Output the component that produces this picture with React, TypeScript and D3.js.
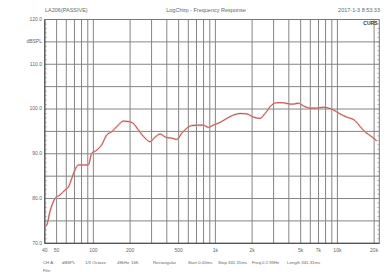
import React from "react";
import * as d3 from "d3";

const freqs = [40, 41.5, 44.1, 48.5, 53.3, 58.6, 62.3, 66.5, 70.7, 75.3, 82.8, 90.9, 97, 106.6, 117, 128.7, 141, 160, 176, 193, 210, 234, 265, 291, 320, 352, 399, 439, 482, 530, 582, 640, 725, 796, 875, 962, 1092, 1318, 1592, 1808, 2047, 2323, 2553, 2897, 3183, 3607, 4092, 4355, 4787, 5260, 5972, 6776, 7676, 8436, 9268, 10520, 11940, 13960, 15340, 16860, 19140, 21000];
const spl = [73.7, 74.1, 77.1, 80.0, 80.8, 81.9, 82.5, 84.5, 86.4, 87.5, 87.5, 87.5, 90.1, 90.8, 92.0, 94.2, 94.9, 96.4, 97.3, 97.2, 96.9, 95.3, 93.5, 92.7, 93.7, 94.4, 93.6, 93.5, 93.2, 94.6, 95.7, 96.3, 96.4, 96.4, 95.9, 96.4, 97.0, 98.3, 99.0, 98.9, 98.2, 97.9, 99.0, 100.9, 101.4, 101.4, 101.1, 101.1, 101.3, 100.7, 100.2, 100.2, 100.4, 100.2, 99.8, 98.9, 98.2, 97.4, 96.1, 94.9, 93.8, 92.9];

const xTickValues = [40, 50, 100, 200, 500, 1000, 2000, 5000, 7000, 10000, 20000];
const xTickLabels = ["40", "50", "100", "200", "500", "1k", "2k", "5k", "7k", "10k", "20k"];
const yLabelValues = [120, 115, 110, 100, 90, 80, 70];
const yLabelTexts = ["120.0", "dBSPL", "110.0", "100.0", "90.0", "80.0", "70.0"];
const infoItems = ["CH A", "dBSPL", "1/3 Octave", "48kHz", "16K", "Rectangular", "Start 0.00ms", "Stop 341.31ms", "Freq.0 2.93Hz", "Length 341.31ms"];
const infoX = [43, 62, 85, 117, 131, 153, 188, 218, 252, 287];

const W = 391, H = 272;
const L = 44.8, R = 379.3, T = 19.5, B = 243.3;

export default function App() {
  const x = d3.scaleLog().domain([40, 22050]).range([L, R]);
  const y = d3.scaleLinear().domain([70, 120]).range([B, T]);

  const gridF: number[] = [];
  for (const dec of [10, 100, 1000, 10000]) {
    for (let m = 1; m <= 9; m++) {
      const f = m * dec;
      if (f > 40 && f <= 20000) gridF.push(f);
    }
  }
  const gridDb = d3.range(75, 120, 5);
  const minorDb = d3.range(70, 121, 1);

  const line = d3.line<number>()
    .x((_, i) => x(freqs[i]))
    .y((d) => y(d))
    .curve(d3.curveMonotoneX);

  const font = "Liberation Sans, Arial, sans-serif";
  const txt = "#666";

  return (
    <svg width={W} height={H} style={{ position: "absolute", left: 0, top: 0, background: "#fff" }} fontFamily={font}>
      <rect x={0} y={0} width={W} height={H} fill="#fff" />
      {gridF.map((f) => (
        <line key={"v" + f} x1={x(f)} x2={x(f)} y1={T} y2={B} stroke="#858585" strokeWidth={1} />
      ))}
      {gridDb.map((d) => (
        <line key={"h" + d} x1={L} x2={R} y1={y(d)} y2={y(d)} stroke="#858585" strokeWidth={1} />
      ))}
      {minorDb.map((d) => (
        <g key={"m" + d}>
          <line x1={L} x2={L + 2} y1={y(d)} y2={y(d)} stroke="#888" strokeWidth={0.6} />
          <line x1={R - 2} x2={R} y1={y(d)} y2={y(d)} stroke="#888" strokeWidth={0.6} />
        </g>
      ))}
      <rect x={L} y={T} width={R - L} height={B - T} fill="none" stroke="#777" strokeWidth={1} />
      <line x1={L} x2={L} y1={T} y2={B} stroke="#555" strokeWidth={1.2} />
      <line x1={L} x2={R} y1={B} y2={B} stroke="#555" strokeWidth={1.2} />
      <path d={line(spl) || ""} fill="none" stroke="#e3b0ad" strokeWidth={2.2} opacity={0.6} />
      <path d={line(spl) || ""} fill="none" stroke="#b8504c" strokeWidth={1} />
      {yLabelValues.map((v, i) => (
        <text key={"yl" + i} x={42} y={y(v)} fontSize={5} fill={txt} textAnchor="end" dominantBaseline="middle">
          {yLabelTexts[i]}
        </text>
      ))}
      {xTickValues.map((v, i) => (
        <text key={"xl" + i} x={x(v)} y={251} fontSize={5} fill={txt} textAnchor="middle" dominantBaseline="middle">
          {xTickLabels[i]}
        </text>
      ))}
      <text x={45} y={10.5} fontSize={5.5} fill={txt} dominantBaseline="middle">LA206(PASSIVE)</text>
      <text x={206} y={10.5} fontSize={5.5} fill={txt} textAnchor="middle" dominantBaseline="middle">LogChirp - Frequency Response</text>
      <text x={380} y={10.5} fontSize={5.5} fill={txt} textAnchor="end" dominantBaseline="middle">2017-1-3 8:53:33</text>
      <text x={377.5} y={23.5} fontSize={5} fill="#333" fontWeight="bold" textAnchor="end" dominantBaseline="middle">CURS</text>
      {infoItems.map((s, i) => (
        <text key={"info" + i} x={infoX[i]} y={262.5} fontSize={4.3} fill={txt} dominantBaseline="middle">{s}</text>
      ))}
      <text x={43} y={271} fontSize={4.3} fill={txt} dominantBaseline="middle">File:</text>
    </svg>
  );
}
